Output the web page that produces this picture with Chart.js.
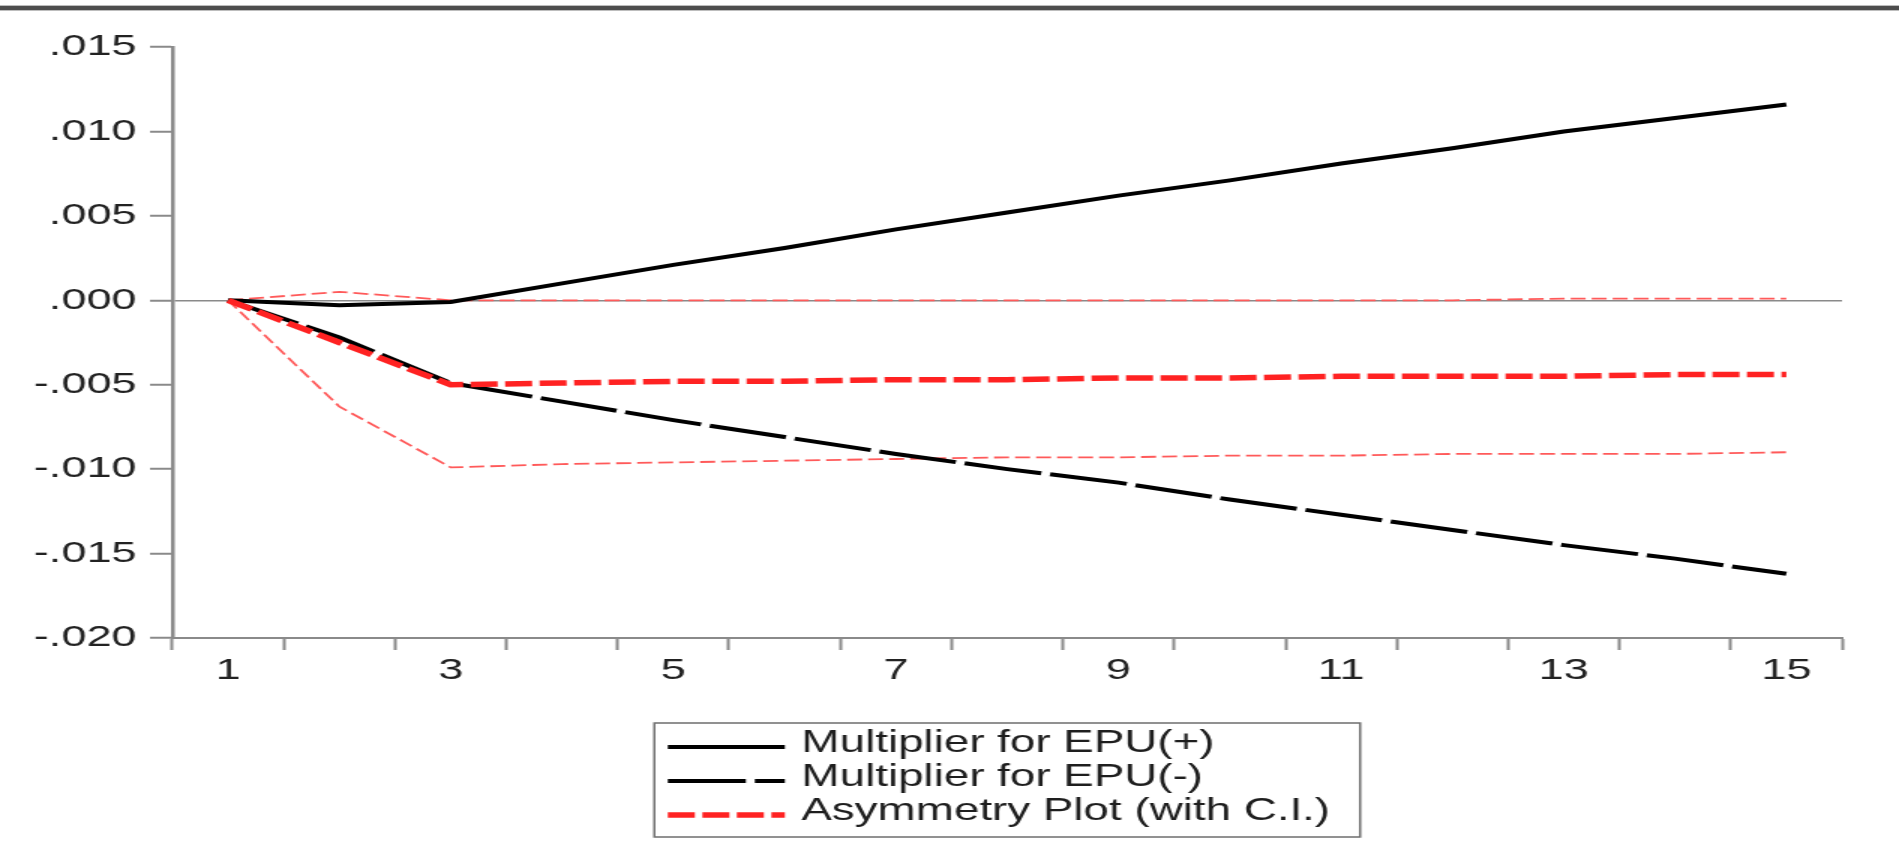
<!DOCTYPE html>
<html>
<head>
<meta charset="utf-8">
<script src="https://cdn.jsdelivr.net/npm/chart.js@4.4.1/dist/chart.umd.min.js"></script>
<style>
  html, body { margin: 0; padding: 0; background: #fff; overflow: hidden; }
  /* the original picture is stretched sideways, so draw narrow and stretch */
  #wrap { width: 1266px; height: 865px; transform: scaleX(1.5); transform-origin: 0 0; }
</style>
</head>
<body>
<div id="wrap"><canvas id="chart" width="1266" height="865"></canvas></div>
<script>
const periods = ['1', '2', '3', '4', '5', '6', '7', '8', '9', '10', '11', '12', '13', '14', '15']
const epuPlus = [0, -0.0003, -0.0001, 0.0010, 0.0021, 0.0031, 0.0042, 0.0052, 0.0062, 0.0071, 0.0081, 0.0090, 0.0100, 0.0108, 0.0116]
const epuMinus = [0, -0.0022, -0.0049, -0.0060, -0.0071, -0.0081, -0.0091, -0.0100, -0.0108, -0.0118, -0.0127, -0.0136, -0.0145, -0.0153, -0.0162]
const asymmetry = [0, -0.0025, -0.0050, -0.0049, -0.0048, -0.0048, -0.0047, -0.0047, -0.0046, -0.0046, -0.0045, -0.0045, -0.0045, -0.0044, -0.0044]
const upperCI = [0, 0.0005, 0.0000, 0.0000, 0.0000, 0.0000, 0.0000, 0.0000, 0.0000, 0.0000, 0.0000, 0.0000, 0.0001, 0.0001, 0.0001]
const lowerCI = [0, -0.0063, -0.0099, -0.0097, -0.0096, -0.0095, -0.0094, -0.0093, -0.0093, -0.0092, -0.0092, -0.0091, -0.0091, -0.0091, -0.0090]
const yTicks = { min: -0.020, max: 0.015, step: 0.005 }

const FONT = "'Liberation Sans', Arial, sans-serif"
const AXIS = '#8a8a8a'
const RED = '#ff2222'
const CI_RED = '#ff5a5a'

// white page + the dark rule on top
const pageFrame = {
  id: 'pageFrame',
  beforeDraw(chart) {
    const { ctx, width } = chart
    ctx.save()
    ctx.fillStyle = '#fff'
    ctx.fillRect(0, 0, width, chart.height)
    ctx.fillStyle = '#bdbdbd'
    ctx.fillRect(0, 5, width, 6)
    ctx.fillStyle = '#4d4d4d'
    ctx.fillRect(0, 6, width, 4)
    ctx.restore()
  },
}

// boxed legend under the axis
const boxLegend = {
  id: 'boxLegend',
  afterDraw(chart) {
    const { ctx, chartArea } = chart
    const items = chart.data.datasets.filter((d) => d.inLegend)
    ctx.save()
    ctx.font = `30.5px ${FONT}`
    const sampleW = 78
    const padL = 9
    const gap = 11
    const padR = 20
    const rowH = 34
    const textW = Math.max(...items.map((d) => ctx.measureText(d.label).width))
    const boxW = padL + sampleW + gap + textW + padR
    const boxH = 114
    const x0 = (chartArea.left + chartArea.right) / 2 - boxW / 2
    const y0 = 723
    ctx.strokeStyle = '#6e6e6e'
    ctx.lineWidth = 1.5
    ctx.strokeRect(x0, y0, boxW, boxH)
    items.forEach((d, i) => {
      const cy = y0 + 21 + rowH * i
      ctx.beginPath()
      ctx.setLineDash(d.borderDash || [])
      ctx.strokeStyle = d.borderColor
      ctx.lineWidth = d.borderWidth
      ctx.moveTo(x0 + padL, cy + 3)
      ctx.lineTo(x0 + padL + sampleW, cy + 3)
      ctx.stroke()
      ctx.setLineDash([])
      ctx.fillStyle = '#1e1e1e'
      ctx.textBaseline = 'middle'
      ctx.fillText(d.label, x0 + padL + sampleW + gap, cy)
    })
    ctx.restore()
  },
}

new Chart(document.getElementById('chart'), {
  type: 'line',
  data: {
    labels: periods,
    datasets: [
      { label: 'Multiplier for EPU(+)', data: epuPlus, borderColor: '#000', borderWidth: 4, order: 1, inLegend: true },
      { label: 'Multiplier for EPU(-)', data: epuMinus, borderColor: '#000', borderWidth: 4, borderDash: [52, 6], order: 2, inLegend: true },
      { label: 'Asymmetry Plot (with C.I.)', data: asymmetry, borderColor: RED, borderWidth: 5.5, borderDash: [18, 5], order: 0, inLegend: true },
      { label: 'Upper C.I.', data: upperCI, borderColor: CI_RED, borderWidth: 1.8, borderDash: [10, 4], order: 3 },
      { label: 'Lower C.I.', data: lowerCI, borderColor: CI_RED, borderWidth: 1.8, borderDash: [10, 4], order: 4 },
    ].map((d) => ({ ...d, pointRadius: 0, tension: 0, fill: false })),
  },
  options: {
    responsive: false,
    animation: false,
    events: [],
    layout: { padding: { left: 0, right: 38, top: 47, bottom: 167 } },
    plugins: { legend: { display: false }, tooltip: { enabled: false } },
    scales: {
      x: {
        type: 'category',
        offset: true,
        afterFit(scale) { scale.height = 60 },
        border: { display: true, color: AXIS, width: 2 },
        grid: { offset: true, drawOnChartArea: false, drawTicks: true, tickLength: 12, tickColor: AXIS, tickWidth: 2 },
        ticks: {
          autoSkip: false,
          maxRotation: 0,
          padding: 3,
          color: '#222',
          font: { family: FONT, size: 30 },
          callback(v, i) { return i % 2 === 0 ? this.getLabelForValue(v) : '' },
        },
      },
      y: {
        min: yTicks.min,
        max: yTicks.max,
        afterFit(scale) { scale.width = 115 },
        border: { display: true, color: AXIS, width: 2.5 },
        grid: {
          drawOnChartArea: true,
          color: (c) => (c.tick && Math.abs(c.tick.value) < 1e-9 ? AXIS : 'rgba(0,0,0,0)'),
          lineWidth: 1.5,
          tickLength: 15,
          tickColor: AXIS,
          tickWidth: 2,
        },
        ticks: {
          stepSize: yTicks.step,
          padding: 9,
          color: '#222',
          font: { family: FONT, size: 30 },
          callback: (v) => v.toFixed(3).replace('0.', '.'),
        },
      },
    },
  },
  plugins: [pageFrame, boxLegend],
})
</script>
</body>
</html>
